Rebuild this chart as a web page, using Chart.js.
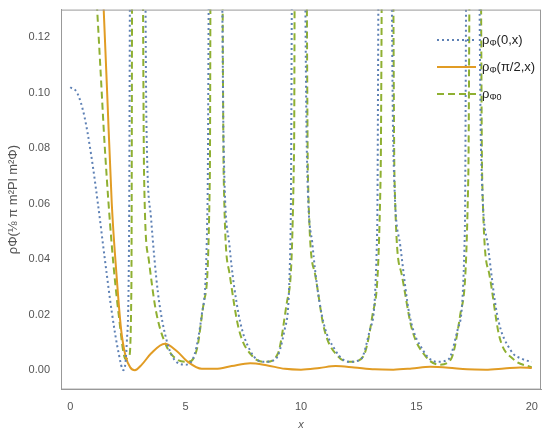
<!DOCTYPE html>
<html>
<head>
<meta charset="utf-8">
<script src="https://cdn.jsdelivr.net/npm/chart.js@4.4.0/dist/chart.umd.min.js"></script>
<style>
  html, body { margin: 0; padding: 0; background: #fff; }
  #wrap { width: 545px; height: 436px; }
</style>
</head>
<body>
<div id="wrap"><canvas id="plot"></canvas></div>
<script>
const xTicks = [0, 5, 10, 15, 20];
const yTicks = [0, 0.02, 0.04, 0.06, 0.08, 0.1, 0.12];

const blueX = [0, 0.3, 0.6, 0.9, 1.2, 1.5, 1.8, 2.1, 2.3, 2.45, 2.55, 2.62, 3.2, 3.3, 3.5, 3.8, 4.2, 4.6, 5.0, 5.4, 5.7, 5.95, 6.05,
  6.5, 6.65, 6.9, 7.3, 7.8, 8.4, 8.9, 9.3, 9.55, 9.65, 10.1, 10.25, 10.5, 10.9, 11.5, 12.1, 12.6, 13.0, 13.3, 13.4,
  13.85, 14.0, 14.3, 14.7, 15.3, 15.9, 16.4, 16.8, 17.1, 17.2, 17.65, 17.8, 18.1, 18.5, 19.1, 19.6, 20];
const blueY = [0.102, 0.100, 0.092, 0.078, 0.060, 0.040, 0.021, 0.006, 0.0, 0.01, 0.05, 0.2, 0.2, 0.09, 0.055, 0.028, 0.010, 0.003, 0.002, 0.006, 0.02, 0.06, 0.2,
  0.2, 0.08, 0.045, 0.02, 0.007, 0.003, 0.004, 0.015, 0.05, 0.2, 0.2, 0.08, 0.045, 0.02, 0.007, 0.003, 0.004, 0.015, 0.05, 0.2,
  0.2, 0.08, 0.045, 0.02, 0.007, 0.003, 0.004, 0.015, 0.05, 0.2, 0.2, 0.08, 0.045, 0.02, 0.007, 0.004, 0.003];

const orangeX = [1.4, 1.6, 1.8, 2.0, 2.2, 2.4, 2.6, 2.8, 3.1, 3.5, 4.1, 4.6, 5.1, 5.7, 6.3, 7.0, 7.8, 8.5, 9.3, 10.0, 10.8, 11.5,
  12.3, 13.2, 14, 14.8, 15.6, 16.4, 17.2, 18, 18.8, 19.5, 20];
const orangeY = [0.14, 0.10, 0.06, 0.035, 0.015, 0.005, 0.001, 0.0, 0.002, 0.006, 0.0095, 0.007, 0.003, 0.0005, 0.0005, 0.0015, 0.0025, 0.0018, 0.0005, 0.0002, 0.0008, 0.0015,
  0.001, 0.0003, 0.0002, 0.0006, 0.0012, 0.0009, 0.0003, 0.0002, 0.0006, 0.001, 0.0008];

const greenX = [1.1, 1.3, 1.5, 1.8, 2.1, 2.4, 2.55, 2.65, 2.7, 3.1, 3.2, 3.4, 3.7, 4.1, 4.6, 5.1, 5.5, 5.8, 6.05, 6.1,
  6.55, 6.65, 6.9, 7.3, 7.9, 8.5, 9.0, 9.4, 9.7, 9.75, 10.2, 10.3, 10.6, 11.0, 11.6, 12.2, 12.7, 13.1, 13.45, 13.55,
  13.95, 14.05, 14.35, 14.8, 15.4, 16.0, 16.5, 16.9, 17.25, 17.35, 17.75, 17.85, 18.15, 18.6, 19.2, 20];
const greenY = [0.14, 0.11, 0.08, 0.045, 0.02, 0.004, 0.005, 0.03, 0.2, 0.2, 0.07, 0.04, 0.022, 0.01, 0.004, 0.003, 0.008, 0.025, 0.07, 0.2,
  0.2, 0.07, 0.035, 0.015, 0.005, 0.003, 0.006, 0.025, 0.08, 0.2, 0.2, 0.07, 0.035, 0.015, 0.005, 0.003, 0.005, 0.02, 0.07, 0.2,
  0.2, 0.07, 0.035, 0.015, 0.005, 0.002, 0.004, 0.02, 0.07, 0.2, 0.2, 0.07, 0.035, 0.012, 0.004, 0.001];

const toPoints = (xs, ys) => xs.map((x, i) => ({ x: x, y: ys[i] }));

const BLUE = '#5e81b5', ORANGE = '#e19c24', GREEN = '#8fb032';

// legend drawn by hand so the dash patterns show as line samples
const legendItems = [
  { color: BLUE, dash: [2, 3], main: 'ρ', sub: 'Φ', rest: '(0,x)' },
  { color: ORANGE, dash: [], main: 'ρ', sub: 'Φ', rest: '(π/2,x)' },
  { color: GREEN, dash: [7, 4], main: 'ρ', sub: 'Φ0', rest: '' }
];

const frameAndLegend = {
  id: 'frameAndLegend',
  afterDraw(chart) {
    const ctx = chart.ctx;
    const a = chart.chartArea;
    ctx.save();
    ctx.strokeStyle = '#999';
    ctx.lineWidth = 1;
    ctx.strokeRect(a.left + 0.5, a.top + 0.5, a.width - 1, a.height - 1);
    legendItems.forEach((it, i) => {
      const y = 40 + i * 27;
      ctx.strokeStyle = it.color;
      ctx.lineWidth = 2;
      ctx.setLineDash(it.dash);
      ctx.beginPath();
      ctx.moveTo(437, y);
      ctx.lineTo(476, y);
      ctx.stroke();
      ctx.setLineDash([]);
      ctx.fillStyle = '#222';
      ctx.textBaseline = 'middle';
      ctx.font = '13px "Liberation Sans"';
      ctx.fillText(it.main, 482, y);
      let w = ctx.measureText(it.main).width;
      ctx.font = '9px "Liberation Sans"';
      ctx.fillText(it.sub, 482 + w, y + 4);
      w += ctx.measureText(it.sub).width;
      ctx.font = '13px "Liberation Sans"';
      ctx.fillText(it.rest, 482 + w, y);
    });
    ctx.restore();
  }
};

new Chart(document.getElementById('plot'), {
  type: 'line',
  data: {
    datasets: [
      { data: toPoints(blueX, blueY), borderColor: BLUE, borderWidth: 2, borderDash: [2, 3] },
      { data: toPoints(orangeX, orangeY), borderColor: ORANGE, borderWidth: 2 },
      { data: toPoints(greenX, greenY), borderColor: GREEN, borderWidth: 2, borderDash: [7, 4] }
    ]
  },
  options: {
    responsive: true,
    maintainAspectRatio: false,
    animation: false,
    layout: { padding: { top: 1, right: 4, left: 2, bottom: 0 } },
    elements: { point: { radius: 0 }, line: { cubicInterpolationMode: 'monotone' } },
    plugins: { legend: { display: false }, tooltip: { enabled: false } },
    scales: {
      x: {
        type: 'linear', min: -0.4, max: 20.4,
        afterBuildTicks: s => { s.ticks = xTicks.map(v => ({ value: v })); },
        grid: { display: false, drawTicks: true },
        border: { color: '#999' },
        ticks: { color: '#555', font: { size: 11, family: 'Liberation Sans' }, maxRotation: 0 },
        title: { display: true, text: 'x', color: '#555', font: { size: 11, style: 'italic', family: 'Liberation Sans' }, padding: { top: 2 } }
      },
      y: {
        min: -0.007, max: 0.13,
        afterBuildTicks: s => { s.ticks = yTicks.map(v => ({ value: v })); },
        grid: { display: false },
        border: { color: '#999' },
        ticks: { color: '#555', font: { size: 11, family: 'Liberation Sans' }, callback: v => v.toFixed(2) },
        title: { display: true, text: 'ρΦ(⅛ π m²Pl m²Φ)', color: '#555', font: { size: 13, family: 'Liberation Sans' } }
      }
    }
  },
  plugins: [frameAndLegend]
});
</script>
</body>
</html>
